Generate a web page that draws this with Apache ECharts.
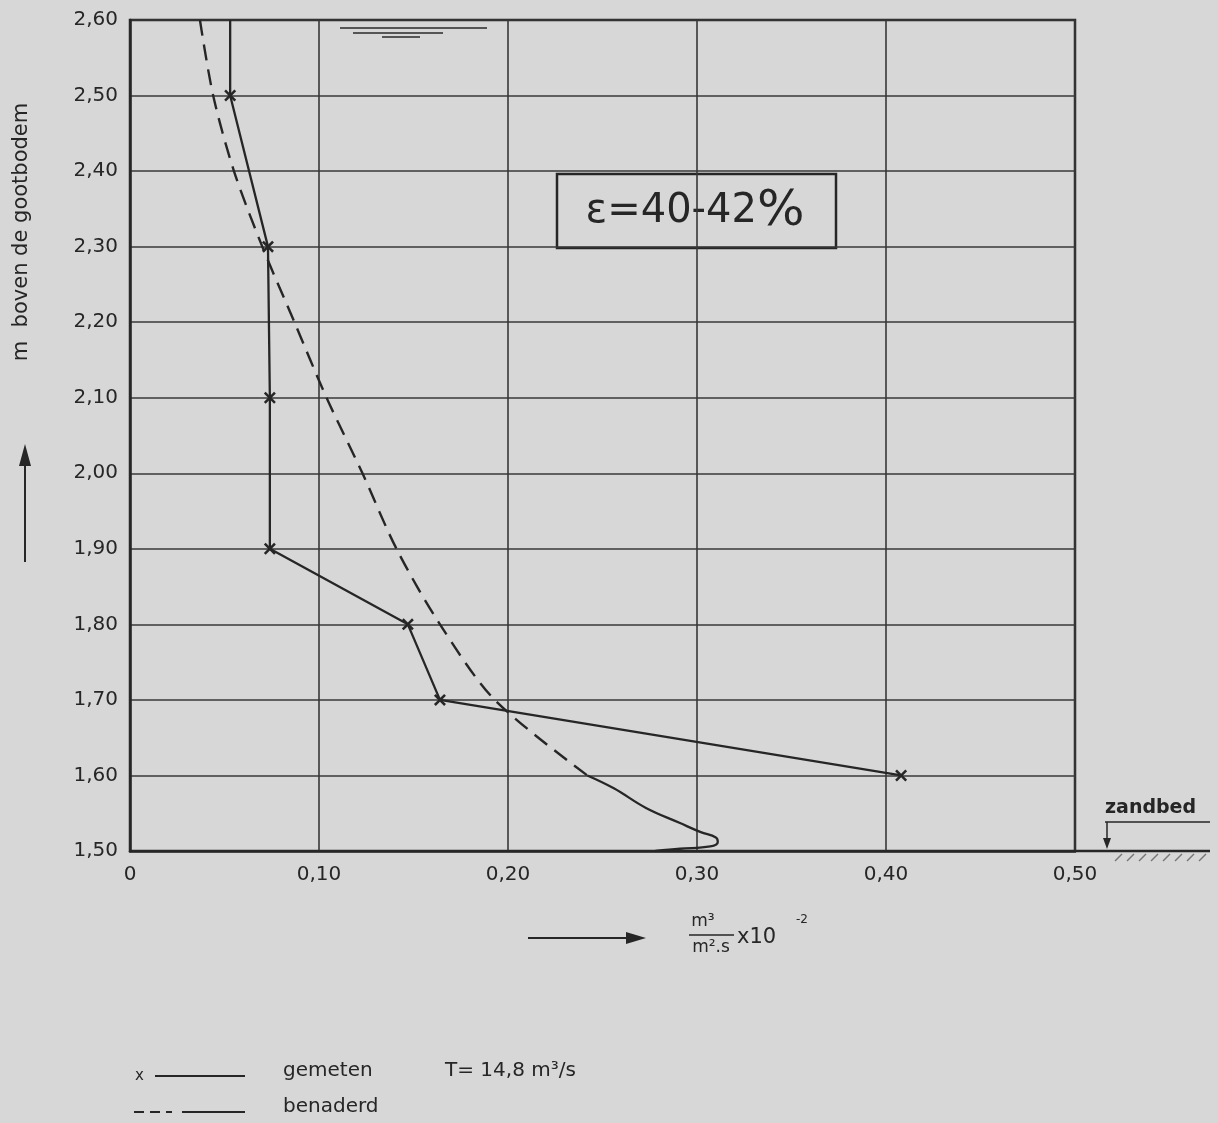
<!DOCTYPE html>
<html>
<head>
<meta charset="utf-8">
<script src="https://cdn.jsdelivr.net/npm/echarts@6/dist/echarts.min.js"></script>
<style>
  html, body { margin: 0; padding: 0; background: #d7d7d7; }
  #chart { width: 1218px; height: 1123px; }
</style>
</head>
<body>
<div id="chart"></div>
<script>
// gemeten (measured) points: x = transport, y = hoogte boven gootbodem
var gemetenX = [0.053, 0.053, 0.073, 0.074, 0.074, 0.147, 0.164, 0.408];
var gemetenY = [2.60, 2.50, 2.30, 2.10, 1.90, 1.80, 1.70, 1.60];

// benaderd (approximated) curve, dashed upper part
var benaderdX = [0.037, 0.044, 0.055, 0.070, 0.087, 0.104, 0.123, 0.141, 0.164, 0.193, 0.242];
var benaderdY = [2.60, 2.50, 2.40, 2.30, 2.20, 2.10, 2.00, 1.90, 1.80, 1.70, 1.60];

// benaderd, solid part near the bed
var bodemX = [0.242, 0.256, 0.273, 0.291, 0.302, 0.310, 0.311, 0.307, 0.291, 0.278];
var bodemY = [1.600, 1.583, 1.557, 1.537, 1.525, 1.518, 1.512, 1.506, 1.503, 1.500];

var xTicks = ['0', '0,10', '0,20', '0,30', '0,40', '0,50'];
var yTicks = ['1,50', '1,60', '1,70', '1,80', '1,90', '2,00', '2,10', '2,20', '2,30', '2,40', '2,50', '2,60'];

var ink = '#262626';
var font = 'DejaVu Sans';

function pairs(xs, ys) {
  var out = [];
  for (var i = 0; i < xs.length; i++) out.push([xs[i], ys[i]]);
  return out;
}

var gemetenData = pairs(gemetenX, gemetenY).map(function (p, i) {
  // top point is only the start of the vertical line, no marker
  return i === 0 ? { value: p, symbol: 'none' } : { value: p };
});

var crossPath = 'path://M0,1.5L1.5,0L5,3.5L8.5,0L10,1.5L6.5,5L10,8.5L8.5,10L5,6.5L1.5,10L0,8.5L3.5,5Z';

var chart = echarts.init(document.getElementById('chart'));

var option = {
  backgroundColor: '#d7d7d7',
  animation: false,
  grid: {
    left: 130, top: 20, right: 143, bottom: 272,
    show: true, borderColor: ink, borderWidth: 2.5, backgroundColor: 'transparent'
  },
  xAxis: {
    type: 'value', min: 0, max: 0.5, interval: 0.1,
    axisLine: { show: true, lineStyle: { color: ink, width: 2.5 } },
    axisTick: { show: false },
    splitLine: { show: true, lineStyle: { color: '#383838', width: 1.6 } },
    axisLabel: {
      margin: 14, color: ink, fontFamily: font, fontSize: 20,
      formatter: function (v) { return xTicks[Math.round(v * 10)]; }
    }
  },
  yAxis: {
    type: 'value', min: 1.5, max: 2.6, interval: 0.1,
    axisLine: { show: true, lineStyle: { color: ink, width: 2.5 } },
    axisTick: { show: false },
    splitLine: { show: true, lineStyle: { color: '#383838', width: 1.6 } },
    axisLabel: {
      margin: 12, color: ink, fontFamily: font, fontSize: 20,
      formatter: function (v) { return yTicks[Math.round((v - 1.5) * 10)]; }
    }
  },
  series: [
    {
      name: 'gemeten', type: 'line', data: gemetenData,
      symbol: crossPath, symbolSize: 12,
      itemStyle: { color: ink },
      lineStyle: { color: ink, width: 2.3 },
      z: 5
    },
    {
      name: 'benaderd', type: 'line', data: pairs(benaderdX, benaderdY),
      smooth: 0.3, symbol: 'none',
      lineStyle: { color: ink, width: 2.4, type: [16, 9] },
      z: 4
    },
    {
      name: 'benaderd bodem', type: 'line', data: pairs(bodemX, bodemY),
      smooth: 0.4, symbol: 'none',
      lineStyle: { color: ink, width: 2.3 },
      z: 4
    }
  ],
  graphic: [
    // y axis title + arrow
    { type: 'text', x: 22, y: 232, rotation: Math.PI / 2,
      style: { text: 'm  boven de gootbodem', font: '21px ' + font, fill: ink, align: 'center', verticalAlign: 'middle' } },
    { type: 'line', shape: { x1: 25, y1: 562, x2: 25, y2: 458 }, style: { stroke: ink, lineWidth: 2 } },
    { type: 'polygon', shape: { points: [[25, 444], [19, 466], [31, 466]] }, style: { fill: ink } },

    // water level marks at the top
    { type: 'line', shape: { x1: 340, y1: 28, x2: 487, y2: 28 }, style: { stroke: '#555', lineWidth: 2 } },
    { type: 'line', shape: { x1: 353, y1: 33, x2: 443, y2: 33 }, style: { stroke: '#555', lineWidth: 2 } },
    { type: 'line', shape: { x1: 382, y1: 37, x2: 420, y2: 37 }, style: { stroke: '#555', lineWidth: 2 } },

    // epsilon box
    { type: 'rect', shape: { x: 557, y: 174, width: 279, height: 74 },
      style: { fill: 'transparent', stroke: ink, lineWidth: 2.5 } },
    { type: 'text', x: 695, y: 212,
      style: {
        text: '{a|ε=40-42}{b|%}', align: 'center', verticalAlign: 'middle',
        rich: {
          a: { font: '40px ' + font, fill: ink },
          b: { font: '50px ' + font, fill: ink }
        }
      } },

    // bottom axis extension and zandbed marker
    { type: 'line', shape: { x1: 1075, y1: 851, x2: 1210, y2: 851 }, style: { stroke: ink, lineWidth: 2.5 } },
    { type: 'text', x: 1105, y: 808,
      style: { text: 'zandbed', font: 'bold 19px ' + font, fill: ink, align: 'left', verticalAlign: 'middle' } },
    { type: 'line', shape: { x1: 1105, y1: 822, x2: 1210, y2: 822 }, style: { stroke: ink, lineWidth: 1.5 } },
    { type: 'line', shape: { x1: 1107, y1: 822, x2: 1107, y2: 840 }, style: { stroke: ink, lineWidth: 1.5 } },
    { type: 'polygon', shape: { points: [[1107, 849], [1103, 838], [1111, 838]] }, style: { fill: ink } },
    { type: 'group', children: [1115, 1127, 1139, 1151, 1163, 1175, 1187, 1199].map(function (x) {
      return { type: 'line', shape: { x1: x, y1: 861, x2: x + 7, y2: 854 }, style: { stroke: '#777', lineWidth: 1.5 } };
    }) },

    // x axis unit
    { type: 'line', shape: { x1: 528, y1: 938, x2: 630, y2: 938 }, style: { stroke: ink, lineWidth: 2 } },
    { type: 'polygon', shape: { points: [[646, 938], [626, 932], [626, 944]] }, style: { fill: ink } },
    { type: 'text', x: 703, y: 922,
      style: { text: 'm³', font: '17px ' + font, fill: ink, align: 'center', verticalAlign: 'middle' } },
    { type: 'line', shape: { x1: 689, y1: 935, x2: 734, y2: 935 }, style: { stroke: ink, lineWidth: 1.5 } },
    { type: 'text', x: 711, y: 948,
      style: { text: 'm².s', font: '17px ' + font, fill: ink, align: 'center', verticalAlign: 'middle' } },
    { type: 'text', x: 737, y: 938,
      style: { text: 'x10', font: '21px ' + font, fill: ink, align: 'left', verticalAlign: 'middle' } },
    { type: 'text', x: 796, y: 920,
      style: { text: '-2', font: '12px ' + font, fill: ink, align: 'left', verticalAlign: 'middle' } },

    // legend
    { type: 'text', x: 135, y: 1076,
      style: { text: 'x', font: '15px ' + font, fill: ink, align: 'left', verticalAlign: 'middle' } },
    { type: 'line', shape: { x1: 155, y1: 1076, x2: 245, y2: 1076 }, style: { stroke: ink, lineWidth: 2 } },
    { type: 'text', x: 283, y: 1071,
      style: { text: 'gemeten', font: '20px ' + font, fill: ink, align: 'left', verticalAlign: 'middle' } },
    { type: 'text', x: 445, y: 1071,
      style: { text: 'T= 14,8 m³/s', font: '20px ' + font, fill: ink, align: 'left', verticalAlign: 'middle' } },
    { type: 'line', shape: { x1: 134, y1: 1112, x2: 172, y2: 1112 },
      style: { stroke: ink, lineWidth: 2, lineDash: [10, 6] } },
    { type: 'line', shape: { x1: 182, y1: 1112, x2: 245, y2: 1112 }, style: { stroke: ink, lineWidth: 2 } },
    { type: 'text', x: 283, y: 1107,
      style: { text: 'benaderd', font: '20px ' + font, fill: ink, align: 'left', verticalAlign: 'middle' } }
  ]
};

chart.setOption(option);
</script>
</body>
</html>
